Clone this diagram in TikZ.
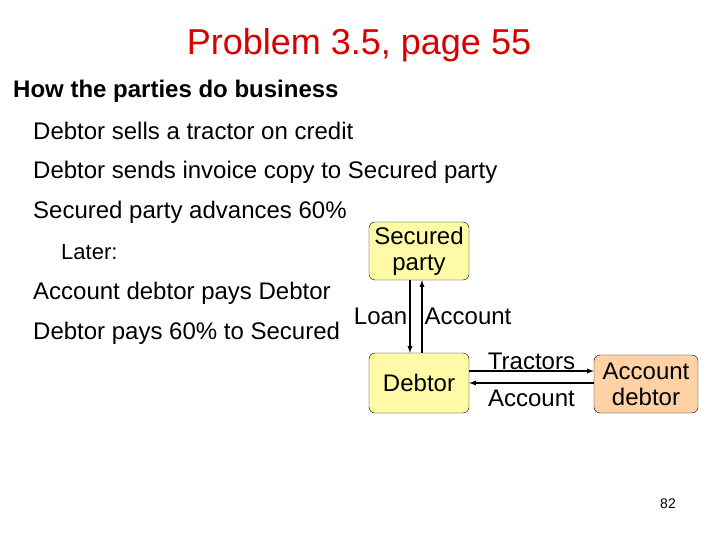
\documentclass[tikz,border=0pt]{standalone}
\usepackage{fontspec}
\setmainfont{Liberation Sans}
\begin{document}
\begin{tikzpicture}[x=1pt,y=-1pt,
  txt/.style={anchor=west,inner sep=0pt,font=\fontsize{24}{26}\selectfont},
  lab/.style={font=\fontsize{24}{26}\selectfont,inner sep=2pt},
  box/.style={draw,rounded corners=6pt,fill=yellow!35,align=center,inner sep=0pt,font=\fontsize{24}{26}\selectfont},
  arr/.style={-latex,line width=1.3pt}]
\useasboundingbox (0,0) rectangle (720,540);
\node[inner sep=0pt,text=red!85!black,font=\fontsize{36}{38}\selectfont] (title) at (359,45) {Problem 3.5, page 55};
\node[txt,font=\bfseries\fontsize{24}{26}\selectfont] (h) at (13,91) {How the parties do business};
\node[txt] (l1) at (33,131) {Debtor sells a tractor on credit};
\node[txt] (l2) at (33,172) {Debtor sends invoice copy to Secured party};
\node[txt] (l3) at (33,212) {Secured party advances 60\%};
\node[txt,font=\fontsize{22}{24}\selectfont] (l4) at (61,252) {Later:};
\node[txt] (l5) at (33,293) {Account debtor pays Debtor};
\node[txt] (l6) at (33,333) {Debtor pays 60\% to Secured};
\node[box,minimum width=100,minimum height=58] (sp) at (419,251) {Secured\\party};
\node[box,minimum width=100,minimum height=60] (d) at (419,383) {Debtor};
\node[box,fill=orange!35,minimum width=104,minimum height=58] (ad) at (646,384) {Account\\debtor};
\coordinate (t1) at (d.east|-0,371);
\coordinate (t2) at (ad.west|-0,371);
\coordinate (a1) at (d.east|-0,383);
\coordinate (a2) at (ad.west|-0,383);
\draw[arr] ([xshift=-9]sp.south) -- ([xshift=-9]d.north) node[midway,left,lab] {Loan};
\draw[arr] ([xshift=3]d.north) -- ([xshift=3]sp.south) node[midway,right,lab] {Account};
\draw[arr] (t1) -- (t2) node[midway,above,lab,inner sep=1pt] {Tractors};
\draw[arr] (a2) -- (a1) node[midway,below=4pt,lab] {Account};
\node[inner sep=0pt,font=\fontsize{14}{16}\selectfont] (pg) at (668,504) {82};
\end{tikzpicture}
\end{document}
